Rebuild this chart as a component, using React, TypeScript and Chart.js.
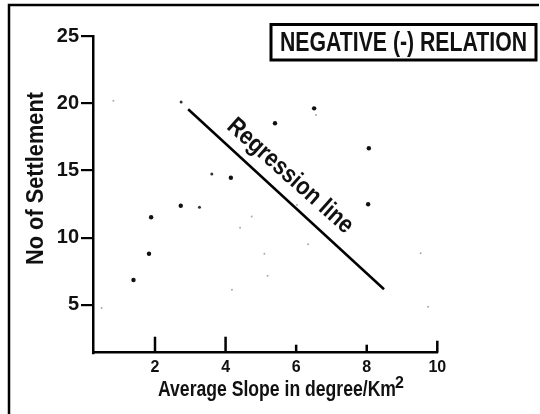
import React, { useEffect, useRef } from "react";
import { Chart, registerables } from "chart.js";

Chart.register(...registerables);

const xTickValues = [2, 4, 6, 8, 10];
const yTickValues = [5, 10, 15, 20, 25];

const darkX = [1.39, 1.83, 1.89, 2.73, 4.15, 5.4, 6.51, 8.06, 8.04];
const darkY = [6.86, 8.81, 11.52, 12.38, 14.46, 18.51, 19.62, 16.65, 12.49];

const smallX = [3.26, 3.61, 2.74];
const smallY = [12.26, 14.74, 20.09];

const faintX = [4.74, 4.41, 5.1, 5.19, 4.18, 6.34, 6.56, 0.82, 0.49, 9.74, 9.53, 6.02];
const faintY = [11.57, 10.75, 8.81, 7.18, 6.14, 9.51, 19.13, 20.19, 4.78, 4.87, 8.84, 12.43];

const regressionX = [2.94, 8.49];
const regressionY = [19.55, 6.17];

const titleText = "NEGATIVE (-) RELATION";
const xTitle = "Average Slope in degree/Km";
const xTitleSup = "2";
const yTitle = "No of Settlement";
const regressionLabel = "Regression line";

const FONT = "'Liberation Sans', Arial, Helvetica, sans-serif";

const pts = (xs: number[], ys: number[]) => xs.map((x, i) => ({ x, y: ys[i] }));

function fitText(ctx: CanvasRenderingContext2D, text: string, x: number, y: number, width: number) {
  const w = ctx.measureText(text).width;
  const s = width / w;
  ctx.save();
  ctx.translate(x, y);
  ctx.scale(s, 1);
  ctx.fillText(text, 0, 0);
  ctx.restore();
}

const decorPlugin = {
  id: "decor",
  afterDraw(chart: any) {
    const ctx: CanvasRenderingContext2D = chart.ctx;
    const xs = chart.scales.x;
    const ys = chart.scales.y;
    ctx.save();
    ctx.strokeStyle = "#000";
    ctx.fillStyle = "#111";

    // outer frame
    ctx.lineWidth = 2.5;
    ctx.beginPath();
    ctx.moveTo(9, 420);
    ctx.lineTo(9, 5);
    ctx.lineTo(539, 5);
    ctx.stroke();

    // title box
    ctx.lineWidth = 3;
    ctx.strokeRect(271, 24.5, 265, 35.5);
    ctx.font = `bold 27px ${FONT}`;
    ctx.textAlign = "left";
    ctx.textBaseline = "alphabetic";
    fitText(ctx, titleText, 280, 51, 247);

    // x ticks pointing up
    const tickLens = [16, 16, 8, 8, 12];
    ctx.lineWidth = 2.5;
    const base = chart.chartArea.bottom;
    xTickValues.forEach((v, i) => {
      const px = xs.getPixelForValue(v);
      ctx.beginPath();
      ctx.moveTo(px, base);
      ctx.lineTo(px, base - tickLens[i]);
      ctx.stroke();
    });

    // x title
    ctx.font = `bold 22px ${FONT}`;
    fitText(ctx, xTitle, 158, 396, 238);
    ctx.font = `bold 16px ${FONT}`;
    ctx.fillText(xTitleSup, 395, 388);

    // y title
    ctx.save();
    ctx.translate(43, 265);
    ctx.rotate(-Math.PI / 2);
    ctx.font = `bold 23px ${FONT}`;
    fitText(ctx, yTitle, 0, 0, 173);
    ctx.restore();

    // regression label
    const p1x = xs.getPixelForValue(regressionX[0]);
    const p1y = ys.getPixelForValue(regressionY[0]);
    const p2x = xs.getPixelForValue(regressionX[1]);
    const p2y = ys.getPixelForValue(regressionY[1]);
    const ang = Math.atan2(p2y - p1y, p2x - p1x) - 0.015;
    ctx.save();
    ctx.translate(290, 176);
    ctx.rotate(ang);
    ctx.font = `bold 25px ${FONT}`;
    ctx.textBaseline = "middle";
    const w = ctx.measureText(regressionLabel).width;
    const s = 160 / w;
    ctx.scale(s, 1);
    ctx.textAlign = "center";
    ctx.fillText(regressionLabel, 0, 0);
    ctx.restore();

    ctx.restore();
  },
};

export default function App() {
  const ref = useRef<HTMLCanvasElement | null>(null);
  useEffect(() => {
    if (!ref.current) return;
    const chart = new Chart(ref.current, {
      type: "scatter",
      data: {
        datasets: [
          {
            data: pts(faintX, faintY),
            pointRadius: 1,
            pointBackgroundColor: "#aaa",
            pointBorderWidth: 0,
          },
          {
            data: pts(smallX, smallY),
            pointRadius: 1.5,
            pointBackgroundColor: "#333",
            pointBorderWidth: 0,
          },
          {
            data: pts(darkX, darkY),
            pointRadius: 2.2,
            pointBackgroundColor: "#111",
            pointBorderWidth: 0,
          },
          {
            type: "line",
            data: pts(regressionX, regressionY),
            borderColor: "#000",
            borderWidth: 2.5,
            pointRadius: 0,
            showLine: true,
            fill: false,
          } as any,
        ],
      },
      options: {
        animation: false,
        responsive: false,
        events: [],
        layout: { padding: { left: 0, top: 36, right: 540 - 437.3, bottom: 0 } },
        plugins: { legend: { display: false }, tooltip: { enabled: false }, title: { display: false } },
        scales: {
          x: {
            type: "linear",
            min: 0.243,
            max: 10,
            afterBuildTicks: (s: any) => {
              s.ticks = xTickValues.map((v) => ({ value: v }));
            },
            afterFit: (s: any) => {
              s.height = 414 - 352.7;
            },
            grid: { display: false, drawTicks: false },
            border: { display: true, color: "#000", width: 2.5 },
            ticks: {
              color: "#111",
              padding: 5,
              font: { family: FONT, size: 16, weight: "bold" },
              maxRotation: 0,
            },
          },
          y: {
            type: "linear",
            min: 1.45,
            max: 25,
            afterBuildTicks: (s: any) => {
              s.ticks = yTickValues.map((v) => ({ value: v }));
            },
            afterFit: (s: any) => {
              s.width = 93;
            },
            grid: {
              display: true,
              drawOnChartArea: false,
              drawTicks: true,
              tickLength: 12,
              color: "#000",
              lineWidth: 2.2,
            },
            border: { display: true, color: "#000", width: 2.5 },
            ticks: {
              color: "#111",
              padding: 2,
              font: { family: FONT, size: 20, weight: "bold" },
            },
          },
        },
      },
      plugins: [decorPlugin],
    });
    return () => chart.destroy();
  }, []);
  return (
    <div style={{ position: "fixed", left: 0, top: 0, width: 540, height: 414, background: "#fff" }}>
      <canvas ref={ref} width={540} height={414} style={{ display: "block" }} />
    </div>
  );
}
